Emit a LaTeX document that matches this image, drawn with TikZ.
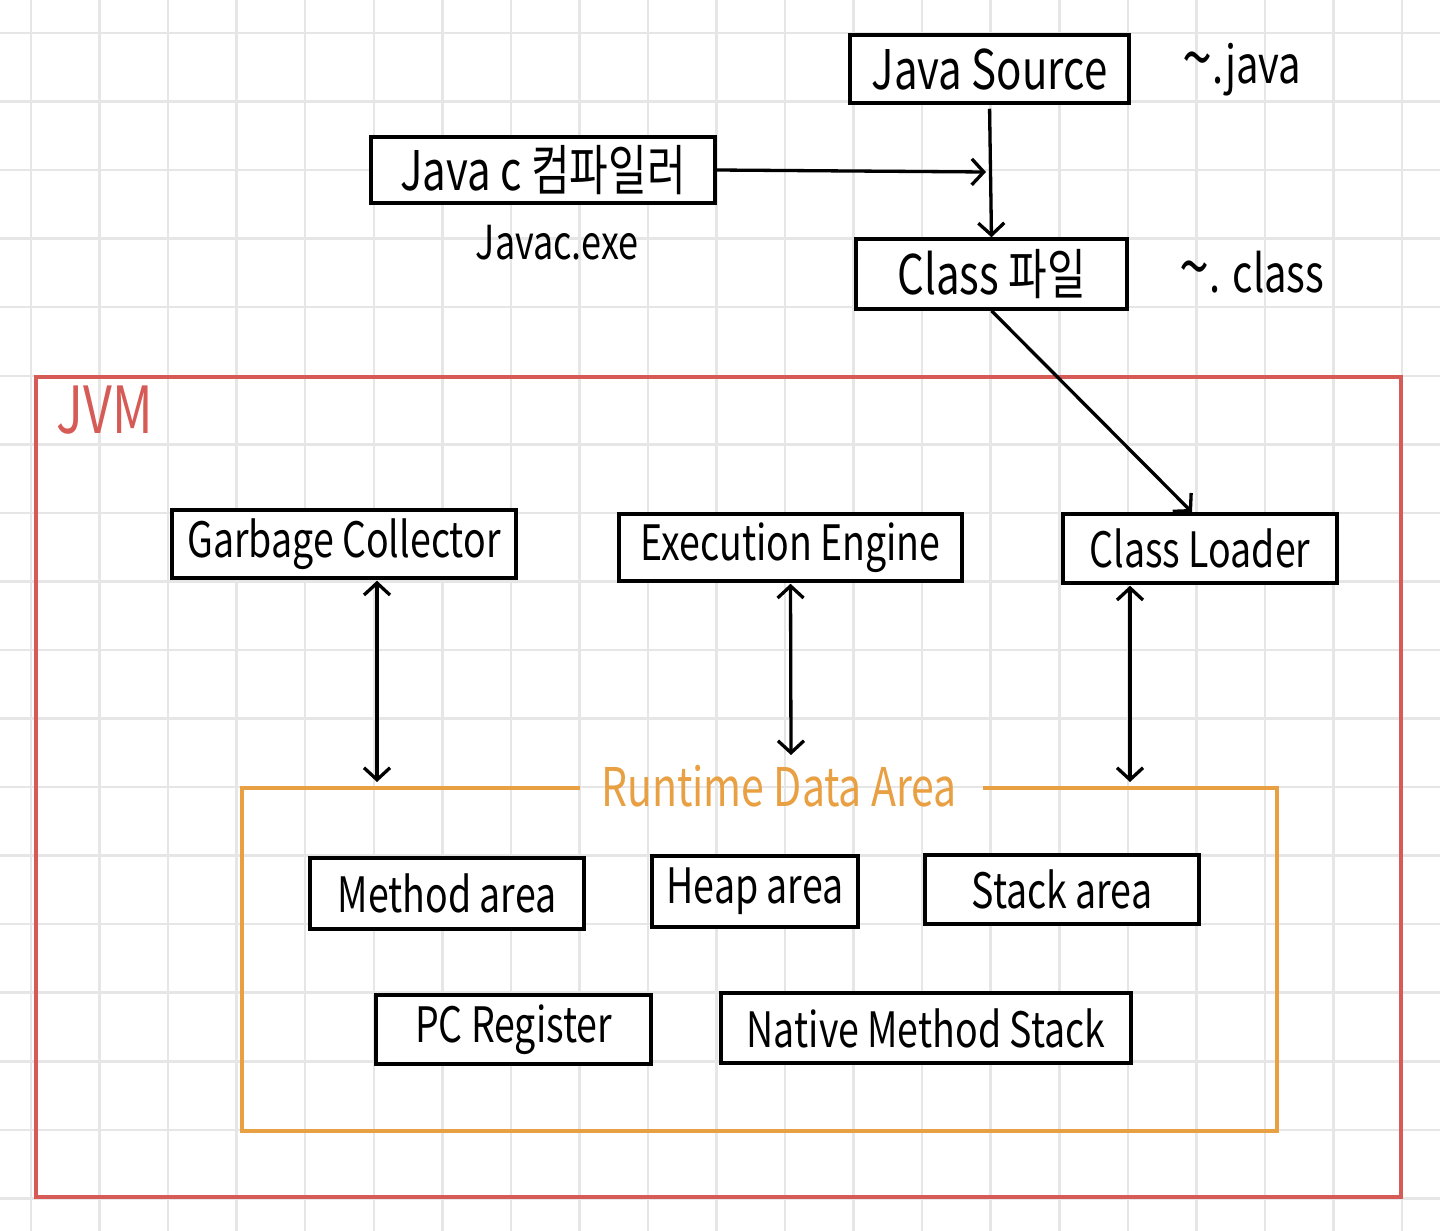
\documentclass[tikz,border=0pt]{standalone}
\usepackage{fontspec}
\setmainfont{Noto Sans CJK KR}
\usetikzlibrary{arrows.meta,calc}
\definecolor{gridc}{HTML}{E6E6E6}
\definecolor{jvmred}{HTML}{D65A55}
\definecolor{rdaorange}{HTML}{E8A043}
\newcommand{\hw}[1]{\scalebox{1}[1.3]{#1}}
\newcommand{\bigtilde}{{\fontsize{54}{54}\selectfont\textasciitilde}}
\begin{document}
\begin{tikzpicture}[x=1pt,y=-1pt,
  blk/.style={draw=black, line width=3.5pt, fill=white, inner sep=0pt, font=\fontsize{37.5}{44}\selectfont},
  bigblk/.style={blk, font=\fontsize{42}{50}\selectfont},
  note/.style={inner sep=0pt, font=\fontsize{36}{44}\selectfont},
  arr/.style={line width=3.3pt, -{Straight Barb[length=12pt,width=26pt]}},
  darr/.style={line width=3.3pt, {Straight Barb[length=12pt,width=26pt]}-{Straight Barb[length=12pt,width=26pt]}},
  gridline/.style={draw=gridc, line width=2.5pt}]
% background and bounding box
\fill[white] (0,0) rectangle (1440,1231);
\useasboundingbox (0,0) rectangle (1440,1231);
% grid
\foreach \i in {0,...,20} \draw[gridline] ({31+\i*68.55},0) -- ({31+\i*68.55},1231);
\foreach \j in {0,...,17} \draw[gridline] (0,{33+\j*68.55}) -- (1440,{33+\j*68.55});

% JVM frame
\draw[draw=jvmred, line width=3.5pt] (36,377) rectangle (1401,1197);
\node[inner sep=0pt, text=jvmred, font=\fontsize{50}{60}\selectfont] (jvmlbl) at (105,410) {\hw{JVM}};

% Runtime Data Area frame
\node[inner sep=0pt, text=rdaorange, font=\fontsize{41}{48}\selectfont] (rdalbl) at (779,786) {\hw{Runtime Data Area}};
\draw[draw=rdaorange, line width=3.5pt] (580,788) -- (242,788) -- (242,1131) -- (1277,1131) -- (1277,788) -- (983,788);
\coordinate (rdatop) at (760,788);

% top nodes
\node[bigblk, minimum width=279pt, minimum height=68pt] (src) at (989.5,69) {\hw{Java Source}};
\node[bigblk, minimum width=344pt, minimum height=66pt] (javac) at (543,170) {\hw{Java c 컴파일러}};
\node[note] (javacexe) at (557,243) {\hw{Javac.exe}};
\node[bigblk, minimum width=271pt, minimum height=70pt] (cls) at (991.5,274) {\hw{Class 파일}};
\node[note, font=\fontsize{40}{48}\selectfont] (tjava) at (1242,70) {\hw{\bigtilde.java}};
\node[note, font=\fontsize{40}{48}\selectfont] (tclass) at (1252,272) {\hw{\bigtilde. class}};

% JVM components
\node[blk, minimum width=344pt, minimum height=68pt] (gc) at (344,544) {\hw{Garbage Collector}};
\node[blk, minimum width=343pt, minimum height=67pt] (ee) at (790.5,547.5) {\hw{Execution Engine}};
\node[blk, minimum width=274pt, minimum height=69pt] (cl) at (1200,548.5) {\hw{Class Loader}};

% Runtime data areas
\node[blk, minimum width=274pt, minimum height=71pt] (ma) at (447,893.5) {\hw{Method area}};
\node[blk, minimum width=206pt, minimum height=71pt] (ha) at (755,891.5) {\hw{Heap area}};
\node[blk, minimum width=274pt, minimum height=69pt] (sa) at (1062,889.5) {\hw{Stack area}};
\node[blk, minimum width=275pt, minimum height=69pt] (pc) at (513.5,1029.5) {\hw{PC Register}};
\node[blk, minimum width=410pt, minimum height=70pt] (nms) at (926,1028) {\hw{Native Method Stack}};

% connectors
\coordinate (join) at (986,172);
\draw[arr] (javac.east) -- (join);
\draw[arr, shorten <=4pt] (src.south) -- (cls.north);
\draw[arr] (cls.south) -- ([xshift=-8pt]cl.north);
\coordinate (eeend) at (791,755);
\draw[darr, shorten <=1pt, shorten >=6pt] ([xshift=33pt]gc.south) -- (rdatop -| 377,0);
\draw[darr, shorten <=1pt] (ee.south) -- (eeend);
\draw[darr, shorten <=1pt, shorten >=6pt] ([xshift=-70pt]cl.south) -- (rdatop -| 1130,0);
\end{tikzpicture}
\end{document}
